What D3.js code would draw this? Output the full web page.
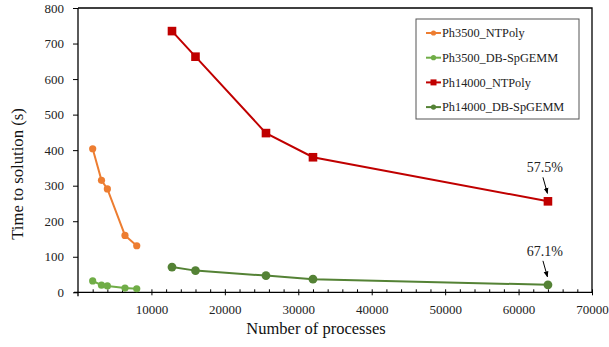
<!DOCTYPE html>
<html>
<head>
<meta charset="utf-8">
<script src="https://cdn.jsdelivr.net/npm/d3@7"></script>
<style>
  body { margin: 0; background: #fff; }
  svg text { font-family: "Liberation Serif", "Times New Roman", Times, "DejaVu Serif", serif !important; }
</style>
</head>
<body>
<svg id="chart" width="609" height="347"></svg>
<script>
// data
const seriesNames = ["Ph3500_NTPoly", "Ph3500_DB-SpGEMM", "Ph14000_NTPoly", "Ph14000_DB-SpGEMM"];
const seriesColors = ["#ED7D31", "#70AD47", "#C00000", "#548235"];
const procs3500 = [2000, 3200, 4000, 6400, 8000];
const procs14000 = [12800, 16000, 25600, 32000, 64000];
const ph3500NTPoly = [404, 315, 291, 160, 131];
const ph3500DBSpGEMM = [32, 20, 18, 12, 10];
const ph14000NTPoly = [735, 663, 448, 380, 256];
const ph14000DBSpGEMM = [71, 61, 47, 37, 21];
const yTicks = [0, 100, 200, 300, 400, 500, 600, 700, 800];
const xTicks = [10000, 20000, 30000, 40000, 50000, 60000, 70000];
const notes = [
  { label: "57.5%", x: 64000, y: 256 },
  { label: "67.1%", x: 64000, y: 21 }
];

const series = [
  { name: seriesNames[0], color: seriesColors[0], xs: procs3500, ys: ph3500NTPoly, shape: "circle", r: 3.6 },
  { name: seriesNames[1], color: seriesColors[1], xs: procs3500, ys: ph3500DBSpGEMM, shape: "circle", r: 3.6 },
  { name: seriesNames[2], color: seriesColors[2], xs: procs14000, ys: ph14000NTPoly, shape: "square", r: 4.3 },
  { name: seriesNames[3], color: seriesColors[3], xs: procs14000, ys: ph14000DBSpGEMM, shape: "circle", r: 4.4 }
];

const svg = d3.select("#chart");
const pLeft = 78, pRight = 592, pTop = 8, pBottom = 292.3;

const x = d3.scaleLinear().domain([0, 70000]).range([pLeft, pRight]);
const y = d3.scaleLinear().domain([0, 800]).range([pBottom, pTop]);

// frame (top and right)
svg.append("path")
  .attr("d", `M${pLeft},${pTop}H${pRight}V${pBottom}`)
  .attr("fill", "none").attr("stroke", "#000").attr("stroke-width", 1.3);

// x axis, minor ticks inside
const minor = d3.range(2000, 70000, 2000).filter(v => v % 10000 !== 0);
svg.append("g")
  .attr("transform", `translate(0,${pBottom})`)
  .call(d3.axisBottom(x).tickValues(minor).tickSize(-3).tickFormat(""))
  .call(g => g.select(".domain").remove())
  .selectAll("line").attr("stroke", "#000");

const xAxis = svg.append("g")
  .attr("transform", `translate(0,${pBottom})`)
  .call(d3.axisBottom(x).tickValues(xTicks).tickSizeInner(3).tickSizeOuter(0).tickPadding(9).tickFormat(d3.format("d")));
xAxis.selectAll(".tick line").attr("y1", -3).attr("stroke", "#000");
xAxis.select(".domain").attr("stroke", "#000").attr("stroke-width", 1.3)
  .attr("d", `M${pLeft - 4},0H${pRight}`);
xAxis.selectAll("text").attr("font-size", 13).attr("fill", "#222");

// y axis
const yAxis = svg.append("g")
  .attr("transform", `translate(${pLeft},0)`)
  .call(d3.axisLeft(y).tickValues(yTicks).tickSizeInner(5).tickSizeOuter(0).tickPadding(9));
yAxis.selectAll(".tick line").attr("stroke", "#000");
yAxis.select(".domain").attr("stroke", "#000").attr("stroke-width", 1.3)
  .attr("d", `M0,${pBottom + 4}V${pTop}`);
yAxis.selectAll("text").attr("font-size", 13).attr("fill", "#222");

// axis titles
svg.append("text")
  .attr("x", 316).attr("y", 334)
  .attr("text-anchor", "middle").attr("font-size", 16.5).attr("fill", "#111")
  .text("Number of processes");
svg.append("text")
  .attr("transform", "translate(23,174) rotate(-90)")
  .attr("text-anchor", "middle").attr("font-size", 16.7).attr("fill", "#111")
  .text("Time to solution (s)");

// lines + markers
const line = d3.line().x(d => x(d[0])).y(d => y(d[1]));
function marker(g, s, cx, cy) {
  if (s.shape === "square") {
    g.append("rect").attr("x", cx - s.r).attr("y", cy - s.r)
      .attr("width", s.r * 2).attr("height", s.r * 2).attr("fill", s.color);
  } else {
    g.append("circle").attr("cx", cx).attr("cy", cy).attr("r", s.r).attr("fill", s.color);
  }
}
series.forEach(s => {
  const pts = s.xs.map((v, i) => [v, s.ys[i]]);
  const g = svg.append("g");
  g.append("path").datum(pts).attr("d", line)
    .attr("fill", "none").attr("stroke", s.color).attr("stroke-width", 2);
  pts.forEach(p => marker(g, s, x(p[0]), y(p[1])));
});

// annotations
svg.append("defs").append("marker")
  .attr("id", "arr").attr("viewBox", "0 0 10 10").attr("refX", 9).attr("refY", 5)
  .attr("markerWidth", 6).attr("markerHeight", 6).attr("orient", "auto")
  .append("path").attr("d", "M0,1L10,5L0,9z").attr("fill", "#000");
notes.forEach(n => {
  const px = x(n.x), py = y(n.y);
  svg.append("text").attr("x", px - 3).attr("y", py - 29)
    .attr("text-anchor", "middle").attr("font-size", 14).attr("fill", "#222").text(n.label);
  svg.append("line")
    .attr("x1", px - 5).attr("y1", py - 24).attr("x2", px - 0.5).attr("y2", py - 8)
    .attr("stroke", "#000").attr("stroke-width", 1).attr("marker-end", "url(#arr)");
});

// legend
const lg = svg.append("g");
lg.append("rect").attr("x", 416).attr("y", 19).attr("width", 163).attr("height", 100)
  .attr("fill", "#fff").attr("stroke", "#555").attr("stroke-width", 1);
series.forEach((s, i) => {
  const cy = 33 + i * 24.7;
  lg.append("line").attr("x1", 426).attr("x2", 441).attr("y1", cy).attr("y2", cy)
    .attr("stroke", s.color).attr("stroke-width", 2);
  marker(lg, { shape: s.shape, r: s.shape === "square" ? 3 : 2.6, color: s.color }, 433.5, cy);
  lg.append("text").attr("x", 442).attr("y", cy + 4.3)
    .attr("font-size", 12.3).attr("fill", "#222").text(s.name);
});
</script>
</body>
</html>
